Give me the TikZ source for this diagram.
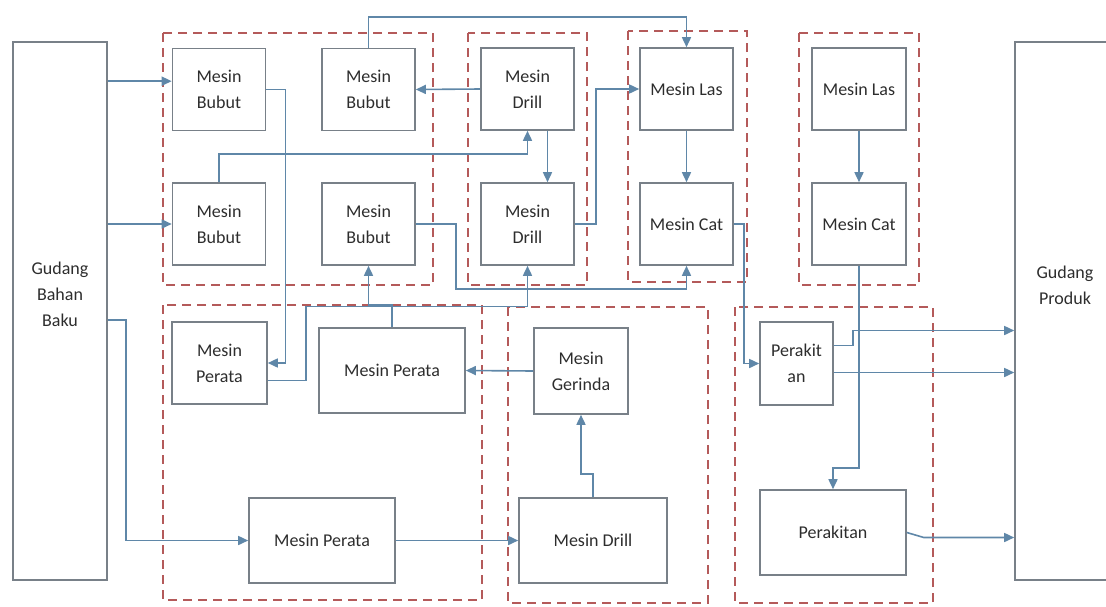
\documentclass[tikz,border=0pt]{standalone}
\usepackage{fontspec}
\setmainfont{Carlito}
\usetikzlibrary{arrows.meta,calc}
\definecolor{garis}{RGB}{120,128,136}
\definecolor{alurbiru}{RGB}{95,135,168}
\definecolor{grupmerah}{RGB}{180,90,90}
\definecolor{teksabu}{RGB}{45,45,45}

\begin{document}
\begin{tikzpicture}[x=1pt,y=-1pt,
        mesin/.style={draw=garis,line width=1.6pt,align=center,text=teksabu,font=\fontsize{18}{26}\selectfont,
            minimum width=93pt,minimum height=82pt,inner sep=0pt},
        gudang/.style={draw=garis,line width=1.6pt,minimum width=94pt,minimum height=538pt},
        teks/.style={align=center,text=teksabu,font=\fontsize{18}{26}\selectfont},
        grup/.style={draw=grupmerah,line width=1.6pt,dash pattern=on 9pt off 6pt},
        alur/.style={draw=alurbiru,line width=1.6pt,-{Triangle[length=10pt,width=9pt]}}]
        \useasboundingbox (0,0) rectangle (1106,606);
        \clip (0,0) rectangle (1106,606);
        % gudang
        \node[gudang] (gbb) at (60,311) {};
        \node[teks] (gbbteks) at (60,294) {Gudang\\Bahan\\Baku};
        \node[gudang,minimum width=105pt] (gp) at (1067.5,311) {};
        \node[teks] (gpteks) at (1065,285) {Gudang\\Produk};
        % kelompok mesin
        \draw[grup] (163,33) rectangle (433,285);
        \draw[grup] (468,33) rectangle (587,285);
        \draw[grup] (628,31) rectangle (747,282);
        \draw[grup] (799,33) rectangle (919,285);
        \draw[grup] (163,305) rectangle (482,600);
        \draw[grup] (508,307) rectangle (708,603);
        \draw[grup] (735,307) rectangle (933,603);
        % mesin
        \node[mesin] (b1) at (219,89.5) {Mesin\\Bubut};
        \node[mesin] (b2) at (368.5,89.5) {Mesin\\Bubut};
        \node[mesin] (b3) at (219,224) {Mesin\\Bubut};
        \node[mesin] (b4) at (368.5,224) {Mesin\\Bubut};
        \node[mesin] (d1) at (527.5,89) {Mesin\\Drill};
        \node[mesin] (d2) at (527.5,224) {Mesin\\Drill};
        \node[mesin] (l1) at (686.5,89) {Mesin Las};
        \node[mesin] (c1) at (686.5,224) {Mesin Cat};
        \node[mesin,minimum width=94pt] (l2) at (859,89) {Mesin Las};
        \node[mesin,minimum width=94pt] (c2) at (859,224) {Mesin Cat};
        \node[mesin,minimum width=95pt] (p1) at (219.5,363) {Mesin\\Perata};
        \node[mesin,minimum width=146pt,minimum height=85pt] (p2) at (392,370.5) {Mesin Perata};
        \node[mesin,minimum width=146pt,minimum height=85pt] (p3) at (322,540.5) {Mesin Perata};
        \node[mesin,minimum width=94pt,minimum height=86pt] (g) at (581,371) {Mesin\\Gerinda};
        \node[mesin,minimum width=148pt,minimum height=85pt] (d3) at (593,540.5) {Mesin Drill};
        \node[mesin,minimum width=73pt,minimum height=83pt] (pa1) at (796.5,363.5) {Perakit\\an};
        \node[mesin,minimum width=146pt,minimum height=85pt] (pa2) at (833,532.5) {Perakitan};
        % alur
        \draw[alur] (gbb.east |- b1.170) -- (b1.170);
        \draw[alur] (gbb.east |- b3.west) -- (b3.west);
        \draw[alur] ([yshift=-9pt]gbb.east) -- ++(18,0) |- (p3.west);
        \draw[alur] (b1.east) -- ++(19,0) |- (p1.east);
        \draw[alur] (b3.north) -- ++(0,-28) -| (d1.south);
        \draw[alur] (d1.west) -- (b2.east);
        \draw[alur] (b2.north) -- ++(0,-31) -| (l1.north);
        \draw[alur] ($(d1.south)+(20,0)$) -- ($(d2.north)+(20,0)$);
        \draw[alur] (d2.east) -- ++(21,0) |- (l1.west);
        \draw[alur] (l1.south) -- (c1.north);
        \draw[alur] (l2.south) -- (c2.north);
        \draw[alur] (b4.east) -- ++(40,0) -- ++(0,65) -| (c1.south);
        \draw[alur] (p1.340) -- ++(38,0) -- ++(0,-74) -| (d2.south);
        \draw[alur] (p2.north) -- ++(0,-22) -| (b4.south);
        \draw[alur] (g.west) -- (p2.east);
        \draw[alur] (d3.north) -- ++(0,-23) -| (g.south);
        \draw[alur] (p3.east) -- (d3.west);
        \draw[alur] (c1.east) -- ++(10,0) |- (pa1.west);
        \draw[alur] (c2.south) -- ++(0,202) -| (pa2.north);
        \draw[alur] ([yshift=18pt]pa1.east) -- ++(19,0) -- ++(0,-15) coordinate (k1) -- (k1 -| gp.west);
        \draw[alur] ([yshift=-9pt]pa1.east) coordinate (k2) -- (k2 -| gp.west);
        \draw[alur] (pa2.east) -- ++(17,5) coordinate (k3) -- (k3 -| gp.west);
    \end{tikzpicture}
\end{document}
